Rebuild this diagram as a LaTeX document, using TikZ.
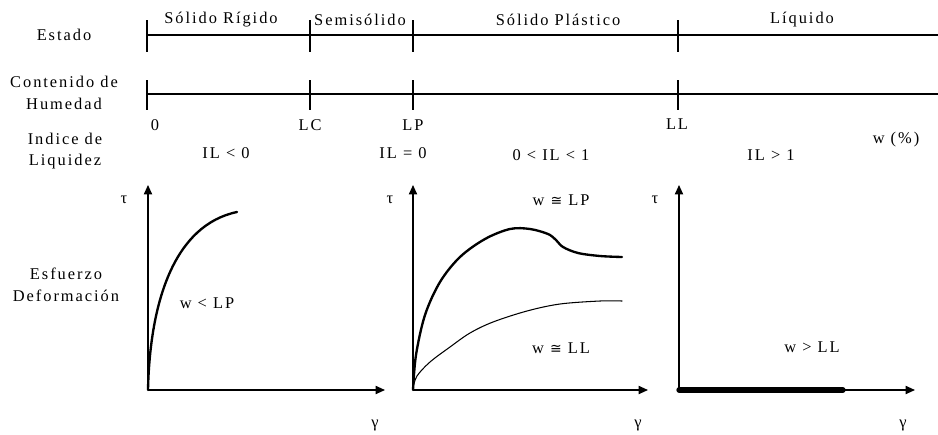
\documentclass[tikz,border=0pt]{standalone}
\usepackage{fontspec}
\setmainfont{Liberation Serif}[LetterSpace=12]
\newfontfamily\symfont{DejaVu Sans}[Scale=0.85]
\usetikzlibrary{arrows.meta}

\begin{document}
\begin{tikzpicture}[
  x=0.03cm, y=-0.03cm,
  font=\fontsize{14}{18.5}\selectfont,
  rule/.style={line width=1.3pt},
  tickmark/.style={line width=2.4pt},
  axis/.style={line width=1.1pt, -{Triangle[length=8pt, width=7pt]}},
  lab/.style={inner sep=1pt},
  rowlab/.style={inner sep=1pt, align=center},
  heavy/.style={line width=2pt, line cap=round},
  light/.style={line width=0.9pt, line cap=round},
]
\useasboundingbox (0,0) rectangle (938,434);

% ---- Row titles --------------------------------------------------------------
\node[rowlab] (est)  at (64,35)  {Estado};
\node[rowlab] (cont) at (64,93)  {Contenido de\\Humedad};
\node[rowlab] (ind)  at (65,151) {Indice de\\Liquidez};
\node[rowlab] (esf)  at (66,285) {Esfuerzo\\Deformación};

% ---- Scales: state and water content ------------------------------------------
\coordinate (r1a) at (147,35);  \coordinate (r1b) at (938,35);
\coordinate (r2a) at (147,94);  \coordinate (r2b) at (938,94);
\draw[rule] (r1a) -- (r1b);
\draw[rule] (r2a) -- (r2b);
\foreach \x/\nm in {147/a,310/b,413/c,678/d} {
  \coordinate (s\nm top) at (\x,20);  \coordinate (s\nm bot) at (\x,52);
  \coordinate (h\nm top) at (\x,80);  \coordinate (h\nm bot) at (\x,110);
  \draw[tickmark] (s\nm top) -- (s\nm bot);
  \draw[tickmark] (h\nm top) -- (h\nm bot);
}

% states
\node[lab] (solrig) at (221,20) {Sólido Rígido};
\node[lab] (semi)   at (360,20) {Semisólido};
\node[lab] (solpla) at (558,20) {Sólido Plástico};
\node[lab] (liq)    at (802,20) {Líquido};

% limits
\node[lab] (v0)  at (155,125) {0};
\node[lab] (vlc) at (310,125) {LC};
\node[lab] (vlp) at (413,125) {LP};
\node[lab] (vll) at (677,124) {LL};
\node[lab] (wpct) at (896,140) {w (\%)};

% liquidity index
\node[lab] (il1) at (226,153) {IL < 0};
\node[lab] (il2) at (403,153) {IL = 0};
\node[lab] (il3) at (551,155) {0 < IL < 1};
\node[lab] (il4) at (771,155) {IL > 1};

% ---- Stress-strain plots --------------------------------------------------------
\foreach \i/\x/\xe in {1/148/385, 2/413/648, 3/679/915} {
  \coordinate (o\i) at (\x,390);
  \coordinate (ty\i) at (\x,185);
  \coordinate (tx\i) at (\xe,390);
  \draw[axis] (o\i) -- (ty\i);
  \draw[axis] (o\i) -- (tx\i);
}
\node[lab] (tau1) at (124,200) {τ};
\node[lab] (tau2) at (390,200) {τ};
\node[lab] (tau3) at (655,200) {τ};
\node[lab] (gam1) at (375,425) {γ};
\node[lab] (gam2) at (638,425) {γ};
\node[lab] (gam3) at (903,425) {γ};

% rigid solid
\draw[heavy] (o1) .. controls (150,300) and (175,225) .. (237,212);
\node[lab] (wlp1) at (207,303) {w < LP};

% plastic solid
\draw[heavy] plot[smooth, tension=0.55] coordinates {
  (413,390) (416,355) (425,315) (440,282) (460,257) (485,239) (510,229)
  (530,229) (548,234) (556,240) (563,247) (578,253) (600,256) (622,257)};
\draw[light] plot[smooth, tension=0.55] coordinates {
  (413,388) (417,376) (430,362) (450,347) (470,333) (493,322) (527,311)
  (560,304) (600,301) (622,301)};
\node[lab] (wlp2) at (561,200) {w {\symfont ≅} LP};
\node[lab] (wll2) at (561,348) {w {\symfont ≅} LL};

% liquid
\coordinate (bar3) at (843,390);
\draw[line width=4.5pt, line cap=round] (o3) -- (bar3);
\node[lab] (wll3) at (812,347) {w > LL};

\end{tikzpicture}
\end{document}
